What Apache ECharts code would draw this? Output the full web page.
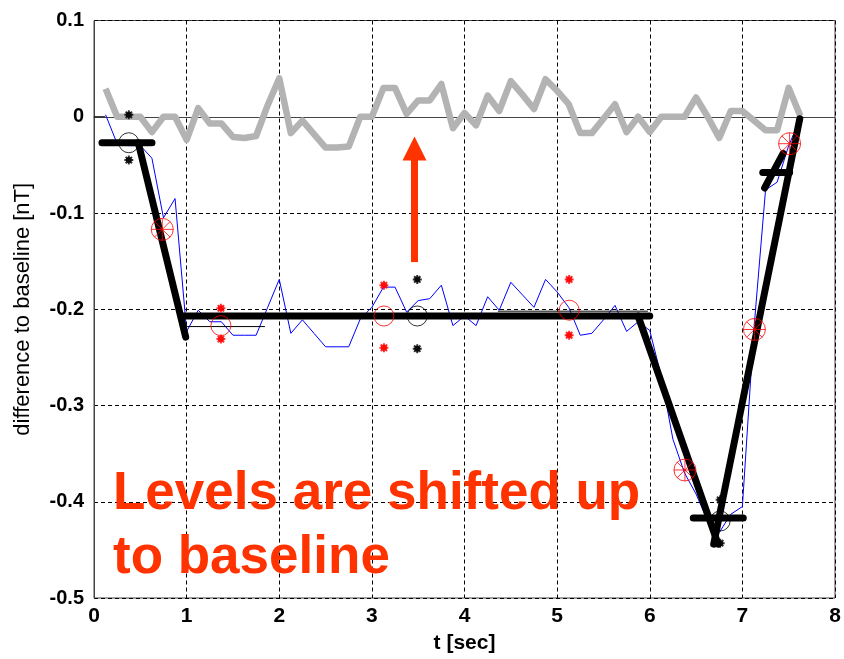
<!DOCTYPE html>
<html>
<head>
<meta charset="utf-8">
<script src="https://cdn.jsdelivr.net/npm/echarts@6/dist/echarts.min.js"></script>
<style>html,body{margin:0;padding:0;background:#fff}#c{width:844px;height:659px}</style>
</head>
<body>
<div id="c"></div>
<script>
// sample times [sec]
const times = [0.125,0.25,0.375,0.5,0.625,0.75,0.875,1.0,1.125,1.25,1.375,1.5,1.625,1.75,1.875,2.0,
  2.125,2.25,2.375,2.5,2.625,2.75,2.875,3.0,3.125,3.25,3.375,3.5,3.625,3.75,3.875,4.0,
  4.125,4.25,4.375,4.5,4.625,4.75,4.875,5.0,5.125,5.25,5.375,5.5,5.625,5.75,5.875,6.0,
  6.125,6.25,6.375,6.5,6.625,6.75,6.875,7.0,7.125,7.25,7.375,7.5,7.625];
// shifted levels (grey)
const shiftedValues = [0.029,0,0,0,-0.016,0,0,-0.024,0.009,-0.007,-0.007,-0.021,-0.022,-0.02,0.012,0.04,
  -0.017,-0.004,-0.018,-0.032,-0.032,-0.031,0,0,0.03,0.03,0.003,0.017,0.017,0.034,-0.012,0.004,
  -0.009,0.022,0.006,0.037,0.023,0.008,0.039,0.027,0.013,-0.017,-0.017,-0.002,0.013,-0.016,0,-0.016,
  0,0,0,0.02,0,-0.022,0.006,0.006,-0.004,-0.014,-0.014,0.03,0.001];
// raw difference to baseline (blue)
const rawValues = [0.002,-0.028,-0.03,-0.03,-0.043,-0.105,-0.085,-0.223,-0.201,-0.213,-0.213,-0.227,-0.227,-0.227,-0.198,-0.169,
  -0.225,-0.211,-0.225,-0.239,-0.239,-0.239,-0.21,-0.198,-0.177,-0.177,-0.203,-0.191,-0.189,-0.175,-0.217,-0.207,
  -0.217,-0.187,-0.201,-0.172,-0.185,-0.198,-0.169,-0.182,-0.198,-0.227,-0.225,-0.211,-0.196,-0.223,-0.213,-0.222,
  -0.27,-0.335,-0.37,-0.392,-0.42,-0.432,-0.413,-0.405,-0.22,-0.076,-0.068,-0.03,-0.002];
// fitted level segments (thick black)
const fitSegments = [
  [[0.086,-0.027],[0.626,-0.027]],
  [[0.478,-0.027],[0.99,-0.229]],
  [[0.964,-0.207],[6.0,-0.207]],
  [[5.874,-0.207],[6.738,-0.444]],
  [[6.69,-0.444],[7.62,-0.002]],
  [[6.47,-0.417],[7.01,-0.417]],
  [[7.22,-0.058],[7.51,-0.058]],
  [[7.24,-0.074],[7.44,-0.038]]
];
// thin black reference segments
const thinSegments = [
  [[0,0],[0.12,0]],
  [[1.0,-0.218],[1.845,-0.218]],
  [[4.36,-0.202],[5.98,-0.202]]
];
const redCircles = [[1.37,-0.217],[3.13,-0.207],[5.13,-0.201]];
const blackCircles = [[0.376,-0.027],[3.49,-0.207],[6.76,-0.42]];
const redStarCircles = [[0.737,-0.117],[6.38,-0.367],[7.13,-0.221],[7.51,-0.028]];
const redStars = [[1.37,-0.199],[1.37,-0.231],[3.13,-0.175],[3.13,-0.24],[5.13,-0.169],[5.13,-0.227]];
const blackStars = [[0.376,0.002],[0.376,-0.045],[3.49,-0.169],[3.49,-0.241],[6.76,-0.398],[6.76,-0.443]];
const arrowFrom = [3.46,-0.151];
const arrowTo = [3.46,-0.033];
const xTicks = [0,1,2,3,4,5,6,7,8];
const annotationLines = ['Levels are shifted up','to baseline'];

const FONT = '"Liberation Sans", Arial, Helvetica, sans-serif';
const starPath = 'path://M0,-10L0,10M-10,0L10,0M-7.07,-7.07L7.07,7.07M-7.07,7.07L7.07,-7.07';
const circleStarPath = 'path://M10,0A10,10,0,1,1,-10,0A10,10,0,1,1,10,0ZM-10,0L10,0M0,-10L0,10M-7.07,-7.07L7.07,7.07M-7.07,7.07L7.07,-7.07';

const series = [];
series.push({type:'line', data: times.map((t,i)=>[t, shiftedValues[i]]), symbol:'none',
  lineStyle:{color:'#b3b3b3', width:6.5, join:'round'}, z:2, silent:true});
series.push({type:'line', data: times.map((t,i)=>[t, rawValues[i]]), symbol:'none',
  lineStyle:{color:'#0000ff', width:1}, z:3, silent:true});
thinSegments.forEach(s => series.push({type:'line', data:s, symbol:'none',
  lineStyle:{color:'#000', width:1}, z:4, silent:true}));
fitSegments.forEach(s => series.push({type:'line', data:s, symbol:'none',
  lineStyle:{color:'#000', width:7, cap:'round'}, z:5, silent:true}));
series.push({type:'scatter', data:redCircles, symbol:'circle', symbolSize:20,
  itemStyle:{color:'rgba(0,0,0,0)', borderColor:'#ff0000', borderWidth:1}, z:6, silent:true});
series.push({type:'scatter', data:blackCircles, symbol:'circle', symbolSize:20,
  itemStyle:{color:'rgba(0,0,0,0)', borderColor:'#000', borderWidth:1}, z:6, silent:true});
series.push({type:'scatter', data:redStarCircles, symbol:circleStarPath, symbolSize:22,
  itemStyle:{color:'rgba(0,0,0,0)', borderColor:'#ff0000', borderWidth:1}, z:6, silent:true});
series.push({type:'scatter', data:redStars, symbol:'circle', symbolSize:6,
  itemStyle:{color:'#ff0000'}, z:6, silent:true});
series.push({type:'scatter', data:redStars, symbol:starPath, symbolSize:9,
  itemStyle:{color:'#ff0000', borderColor:'#ff0000', borderWidth:2}, z:6, silent:true});
series.push({type:'scatter', data:blackStars, symbol:'circle', symbolSize:6,
  itemStyle:{color:'#000'}, z:6, silent:true});
series.push({type:'scatter', data:blackStars, symbol:starPath, symbolSize:9,
  itemStyle:{color:'#000', borderColor:'#000', borderWidth:2}, z:6, silent:true});
series.push({type:'line', data:[], z:10, silent:true,
  markLine:{silent:true, symbol:['none','triangle'], symbolSize:[24,24], animation:false,
    label:{show:false}, lineStyle:{color:'#ff3300', width:7, type:'solid'},
    data:[[{coord:arrowFrom},{coord:arrowTo}]]}});

const chart = echarts.init(document.getElementById('c'), null, {renderer:'canvas'});
chart.setOption({
  animation:false,
  backgroundColor:'#fff',
  grid:{left:94, top:20.5, right:9, bottom:57.5, show:true, borderColor:'#444', borderWidth:1, backgroundColor:'transparent'},
  xAxis:{type:'value', min:0, max:8, interval:1,
    name:'t [sec]', nameLocation:'middle', nameGap:35,
    nameTextStyle:{fontFamily:FONT, fontWeight:'bold', fontSize:21, color:'#000'},
    axisLine:{show:true, lineStyle:{color:'#444', width:1}},
    axisTick:{show:false},
    axisLabel:{fontFamily:FONT, fontWeight:'bold', fontSize:21, color:'#000', margin:8,
      formatter: v => String(xTicks[Math.round(v)])},
    splitLine:{show:true, lineStyle:{color:'#000', width:1, type:[4,3]}}},
  yAxis:{type:'value', min:-0.5, max:0.1, interval:0.1,
    name:'difference to baseline [nT]', nameLocation:'middle', nameGap:60,
    nameTextStyle:{fontFamily:FONT, fontSize:22, color:'#000'},
    axisLine:{show:true, lineStyle:{color:'#444', width:1}},
    axisTick:{show:false},
    axisLabel:{fontFamily:FONT, fontWeight:'bold', fontSize:20, color:'#000', margin:10,
      formatter: v => String(+v.toFixed(1))},
    splitLine:{show:true, lineStyle:{color:'#000', width:1, type:[4,3]}}},
  graphic: annotationLines.map((txt, i) => ({
    type:'text', x:113, y:494.6 + i*63.4, z:20, silent:true,
    style:{text:txt, fill:'#ff3300', font:'bold 53px ' + FONT, verticalAlign:'middle', align:'left'}
  })),
  series: series
});
</script>
</body>
</html>
